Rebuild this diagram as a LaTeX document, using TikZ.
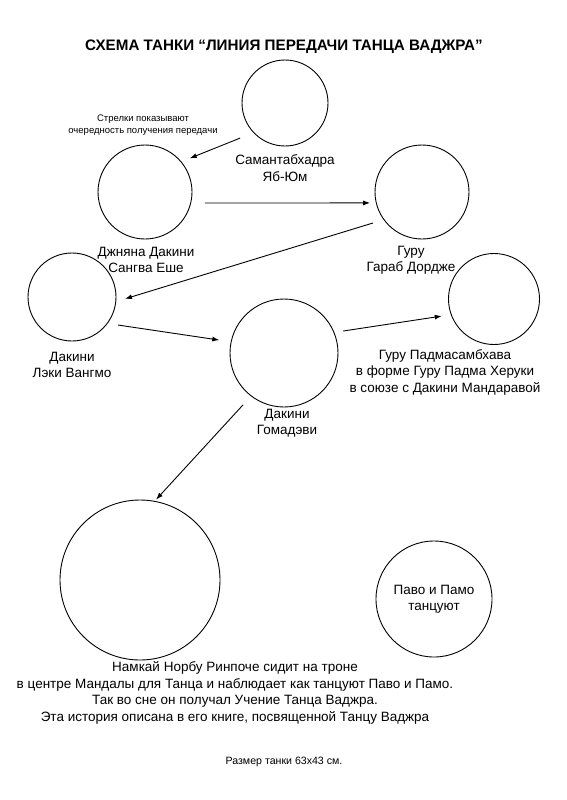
\documentclass[tikz,border=0pt]{standalone}
\usepackage{fontspec}
\setmainfont{Liberation Sans}
\usetikzlibrary{arrows.meta}
\begin{document}
\begin{tikzpicture}[x=1pt,y=-1pt,
  circ/.style={draw,circle,line width=0.9pt,inner sep=0pt},
  lbl/.style={align=center,font=\fontsize{13.5}{16.5}\selectfont,inner sep=0pt},
  arr/.style={line width=0.9pt,-{Latex[length=7pt,width=5pt]}}]
\useasboundingbox (0,0) rectangle (566,800);
\node[font=\bfseries\fontsize{15.2}{17}\selectfont] (title) at (284,47) {СХЕМА ТАНКИ “ЛИНИЯ ПЕРЕДАЧИ ТАНЦА ВАДЖРА”};
\node[align=center,font=\fontsize{9.5}{12}\selectfont,inner sep=0pt] (note) at (143,125) {Стрелки показывают\\очередность получения передачи};
% circles
\node[circ,minimum size=86pt] (sam) at (285,103) {};
\node[circ,minimum size=94pt] (jn) at (145,192) {};
\node[circ,minimum size=94pt] (gar) at (422,192) {};
\node[circ,minimum size=88pt] (lek) at (72,297) {};
\node[circ,minimum size=108pt] (gom) at (284,353) {};
\node[circ,minimum size=91pt] (pad) at (494,299) {};
\node[circ,minimum size=160pt] (nam) at (140,580) {};
\node[circ,minimum size=116pt,lbl] (paw) at (434,599) {Паво и Памо\\танцуют};
% labels
\node[lbl] (samL) at (285,168) {Самантабхадра\\Яб-Юм};
\node[lbl] (jnL) at (146,260) {Джняна Дакини\\Сангва Еше};
\node[lbl] (garL) at (411,260) {Гуру\\Гараб Дордже};
\node[lbl] (lekL) at (72,365) {Дакини\\Лэки Вангмо};
\node[lbl] (gomL) at (287,423) {Дакини\\Гомадэви};
\node[lbl] (padL) at (445,372) {Гуру Падмасамбхава\\в форме Гуру Падма Херуки\\в союзе с Дакини Мандаравой};
\node[lbl] (namL) at (235,693) {Намкай Норбу Ринпоче сидит на троне\\в центре Мандалы для Танца и наблюдает как танцуют Паво и Памо.\\Так во сне он получал Учение Танца Ваджра.\\Эта история описана в его книге, посвященной Танцу Ваджра};
\node[font=\fontsize{10.6}{12}\selectfont] (size) at (284,762) {Размер танки 63х43 см.};
% arrows (angles measured with y pointing down)
\draw[arr] ([shift={(142:57)}]sam.center) -- ([shift={(-37:56)}]jn.center);
\draw[arr] ([shift={(10.4:61)}]jn.center) -- ([shift={(168.1:53)}]gar.center);
\draw[arr] ([shift={(147.7:58)}]gar.center) -- ([shift={(2:53)}]lek.center);
\draw[arr] ([shift={(31.3:54)}]lek.center) -- ([shift={(-168.7:66)}]gom.center);
\draw[arr] ([shift={(-20.4:63)}]gom.center) -- ([shift={(161.9:55)}]pad.center);
\draw[arr] ([shift={(128.3:66)}]gom.center) -- ([shift={(-78.7:82)}]nam.center);
\end{tikzpicture}
\end{document}
